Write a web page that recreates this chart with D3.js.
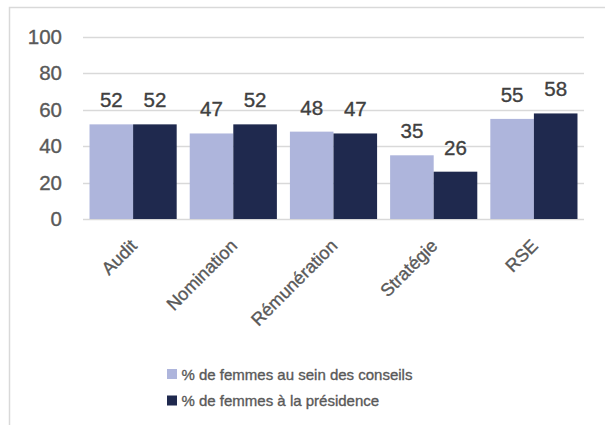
<!DOCTYPE html>
<html lang="fr">
<head>
<meta charset="utf-8">
<title>Femmes dans les comités</title>
<script src="https://d3js.org/d3.v7.min.js"></script>
<style>
  body { margin: 0; background: #fff; }
  text { font-family: "Liberation Sans", Arial, sans-serif; stroke-width: 0.35px; }
</style>
</head>
<body>
<script>
  // data
  var categories = ["Audit", "Nomination", "Rémunération", "Stratégie", "RSE"];
  var seriesNames = ["% de femmes au sein des conseils", "% de femmes à la présidence"];
  var conseils = [52, 47, 48, 35, 55];
  var presidence = [52, 52, 47, 26, 58];
  var yTicks = [0, 20, 40, 60, 80, 100];
  var colors = ["#aeb5dc", "#1f294e"];

  var w = 605, h = 425;

  var svg = d3.select("body").append("svg").attr("width", w).attr("height", h);

  // chart frame (runs off the right and bottom edges)
  svg.append("rect")
    .attr("x", 9.5).attr("y", 7.5)
    .attr("width", 700).attr("height", 500)
    .attr("fill", "none").attr("stroke", "#d9d9d9").attr("stroke-width", 1.5);

  var x0 = d3.scaleBand().domain(categories).range([83, 584])
    .paddingInner(0.13).paddingOuter(0.065);
  var x1 = d3.scaleBand().domain([0, 1]).range([0, x0.bandwidth()]);
  var y = d3.scaleLinear().domain([0, 100]).range([219, 37]);

  // gridlines
  svg.append("g").selectAll("line").data(yTicks).enter().append("line")
    .attr("x1", 83).attr("x2", 584)
    .attr("y1", function(d) { return Math.round(y(d)) + 0.5; })
    .attr("y2", function(d) { return Math.round(y(d)) + 0.5; })
    .attr("stroke", "#d9d9d9").attr("stroke-width", 1.3);

  // y axis labels
  var yAxis = d3.axisLeft(y).tickValues(yTicks).tickSize(0).tickPadding(0);
  var gy = svg.append("g").attr("transform", "translate(62,0)").call(yAxis);
  gy.select(".domain").remove();
  gy.selectAll("text")
    .attr("fill", "#595959").attr("stroke", "#595959")
    .style("font-size", "20.5px")
    .style("font-family", "'Liberation Sans', Arial, sans-serif");

  // bars
  var rows = categories.map(function(c, i) {
    return { cat: c, vals: [conseils[i], presidence[i]] };
  });

  var groups = svg.selectAll(".grp").data(rows).enter().append("g")
    .attr("transform", function(d) { return "translate(" + x0(d.cat) + ",0)"; });

  groups.selectAll("rect").data(function(d) { return d.vals; }).enter().append("rect")
    .attr("x", function(d, i) { return x1(i); })
    .attr("width", x1.bandwidth())
    .attr("y", function(d) { return y(d); })
    .attr("height", function(d) { return y(0) - y(d); })
    .attr("fill", function(d, i) { return colors[i]; });

  // data labels
  groups.selectAll(".lbl").data(function(d) { return d.vals; }).enter().append("text")
    .attr("x", function(d, i) { return x1(i) + x1.bandwidth() / 2; })
    .attr("y", function(d) { return y(d) - 17; })
    .attr("text-anchor", "middle")
    .attr("fill", "#404040").attr("stroke", "#404040")
    .style("font-size", "20.5px")
    .text(function(d) { return d; });

  // category labels, rotated
  svg.append("g").selectAll("text").data(categories).enter().append("text")
    .attr("transform", function(d) {
      return "translate(" + (x0(d) + x0.bandwidth() / 2 + 5) + ",247) rotate(-45)";
    })
    .attr("text-anchor", "end")
    .attr("fill", "#595959").attr("stroke", "#595959")
    .style("font-size", "18px")
    .text(function(d) { return d; });

  // legend
  var legend = svg.append("g").selectAll("g").data(seriesNames).enter().append("g")
    .attr("transform", function(d, i) { return "translate(167," + (369 + i * 26.5) + ")"; });
  legend.append("rect").attr("width", 10).attr("height", 10)
    .attr("fill", function(d, i) { return colors[i]; });
  legend.append("text").attr("x", 14.5).attr("y", 10.5)
    .attr("fill", "#595959").attr("stroke", "#595959")
    .style("font-size", "15px")
    .text(function(d) { return d; });
</script>
</body>
</html>
